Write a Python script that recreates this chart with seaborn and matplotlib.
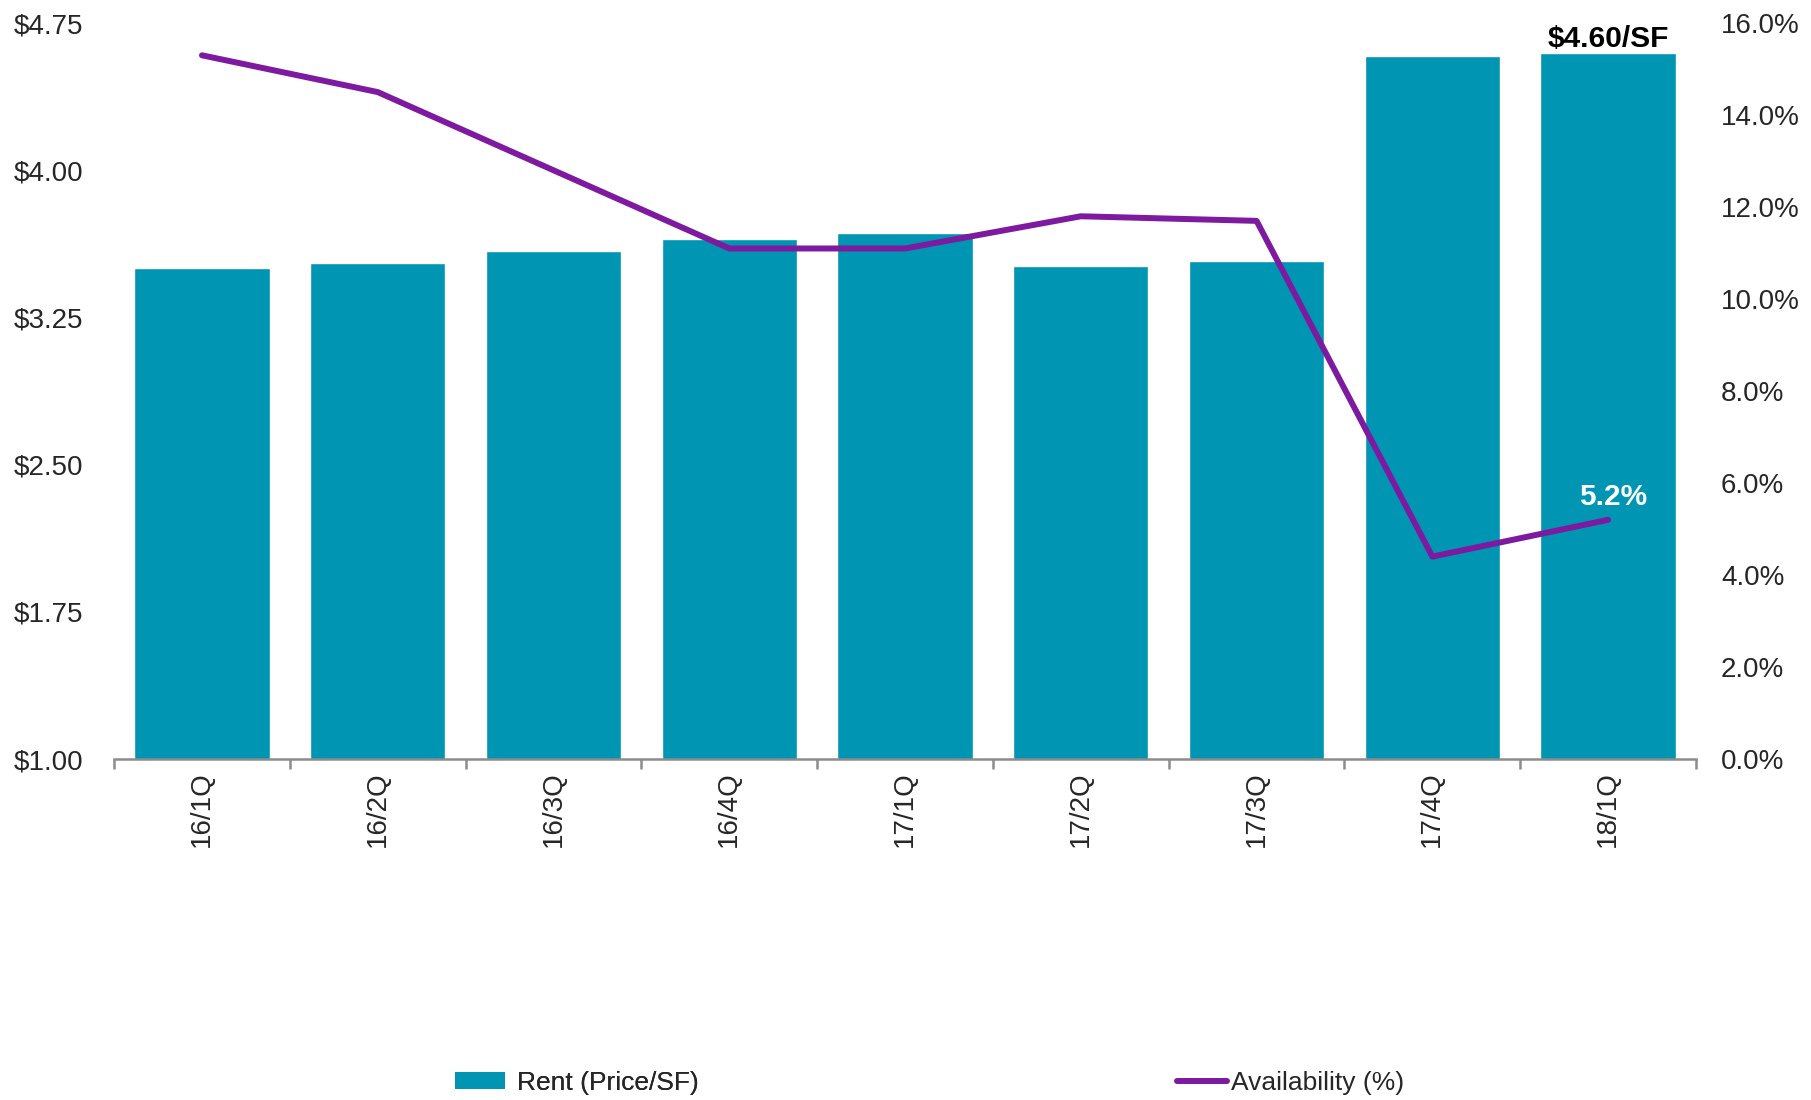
import numpy as np
import pandas as pd
import matplotlib
matplotlib.use("Agg")
import matplotlib.pyplot as plt
import seaborn as sns
from matplotlib.patches import Patch
from matplotlib.lines import Line2D

quarters = ["16/1Q", "16/2Q", "16/3Q", "16/4Q", "17/1Q", "17/2Q", "17/3Q", "17/4Q", "18/1Q"]
rent = [3.50, 3.53, 3.59, 3.65, 3.68, 3.51, 3.54, 4.58, 4.60]
availability = [15.3, 14.5, 12.8, 11.1, 11.1, 11.8, 11.7, 4.4, 5.2]
left_ticks = [1.00, 1.75, 2.50, 3.25, 4.00, 4.75]
right_ticks = [0, 2, 4, 6, 8, 10, 12, 14, 16]

BAR = "#0095B3"
LINE = "#7D1A9F"

sns.set_theme(style="white")
plt.rcParams["font.family"] = ["Liberation Sans", "DejaVu Sans"]

fig = plt.figure(figsize=(18.11, 11.0), dpi=100)
ax = fig.add_axes([0.063, 0.31, 0.8735, 0.669])

df = pd.DataFrame({"Quarter": quarters, "Rent": rent})
sns.barplot(data=df, x="Quarter", y="Rent", color=BAR, saturation=1, width=0.77, ax=ax)
ax.set_xlim(-0.5, len(quarters) - 0.5)
ax.set_ylim(1.0, 4.75)
ax.set_yticks(left_ticks)
ax.set_yticklabels([f"${v:.2f}" for v in left_ticks], fontsize=20)
ax.set_xlabel("")
ax.set_ylabel("")
ax.set_xticks(range(len(quarters)))
ax.set_xticklabels(quarters, rotation=90, fontsize=20, va="top")
ax.set_xticks(np.arange(-0.5, len(quarters), 1.0), minor=True)
ax.tick_params(axis="x", which="major", length=0, pad=9)
ax.tick_params(axis="x", which="minor", bottom=True, length=7, width=1.8,
               color="#8C8C8C", direction="out")
ax.tick_params(axis="y", length=0, pad=22)
for s in ["top", "left", "right"]:
    ax.spines[s].set_visible(False)
ax.spines["bottom"].set_color("#8C8C8C")
ax.spines["bottom"].set_linewidth(1.8)

ax2 = ax.twinx()
ax2.plot(np.arange(len(quarters)), availability, color=LINE, lw=4.3,
         solid_capstyle="round", solid_joinstyle="round")
ax2.set_ylim(0, 16)
ax2.set_yticks(right_ticks)
ax2.set_yticklabels([f"{v:.1f}%" for v in right_ticks], fontsize=20)
ax2.tick_params(axis="y", length=0, pad=18)
for s in ["top", "left", "right", "bottom"]:
    ax2.spines[s].set_visible(False)
ax2.grid(False)
ax.grid(False)

last = len(quarters) - 1
ax.annotate(f"${rent[last]:.2f}/SF", xy=(last, rent[last]), xytext=(0, 10),
            textcoords="offset points", ha="center", va="center",
            fontsize=21.5, fontweight="bold", color="black")
ax2.annotate(f"{availability[last]:.1f}%", xy=(last, availability[last]), xytext=(3.3, 16.5),
             textcoords="offset points", ha="center", va="center",
             fontsize=21.5, fontweight="bold", color="white")

h1 = Patch(facecolor=BAR, edgecolor="none")
h2 = Line2D([0], [0], color=LINE, lw=4.3)
leg1 = fig.legend([h1], ["Rent (Price/SF)"], loc="center left", bbox_to_anchor=(0.251, 0.0155),
                  frameon=False, fontsize=19, handlelength=1.9, handleheight=0.6,
                  handletextpad=0.45, borderpad=0, borderaxespad=0)
leg2 = fig.legend([h2], ["Availability (%)"], loc="center left", bbox_to_anchor=(0.650, 0.0155),
                  frameon=False, fontsize=19, handlelength=1.9,
                  handletextpad=0.15, borderpad=0, borderaxespad=0)
fig.add_artist(leg1)

fig.savefig("out.png", dpi=100)
